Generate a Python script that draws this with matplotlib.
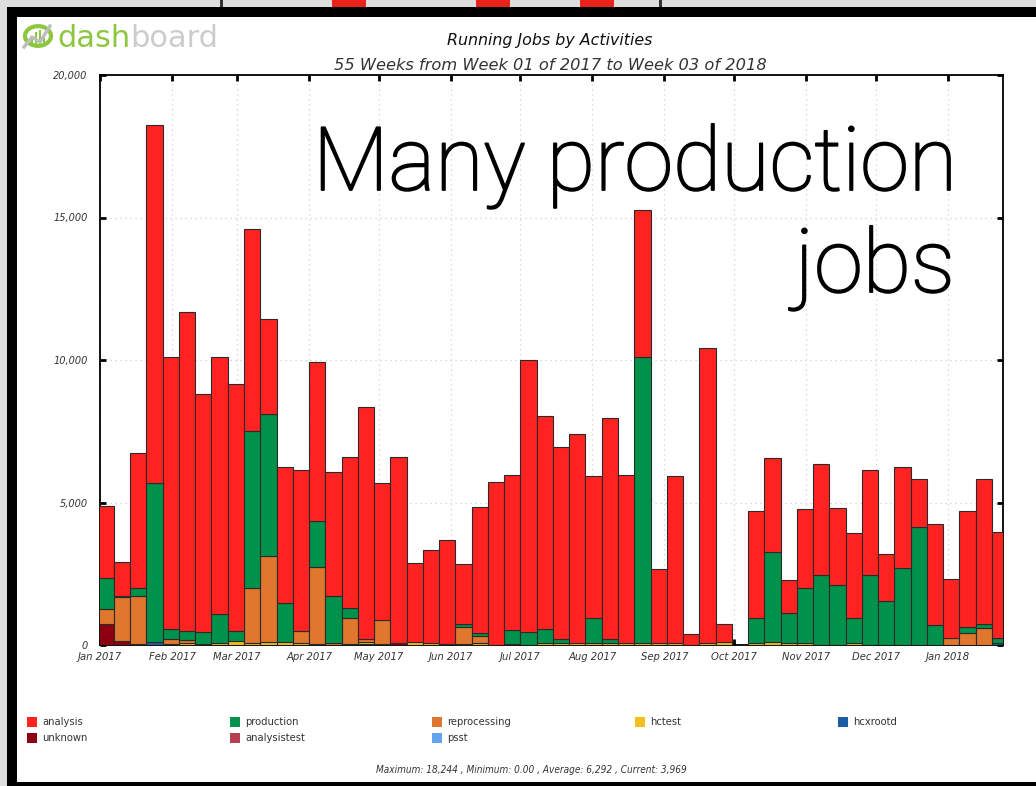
import numpy as np
import pandas as pd
import matplotlib
matplotlib.use("Agg")
import matplotlib.pyplot as plt
import matplotlib.patches as mpatches
import matplotlib.patheffects as pe
from matplotlib import font_manager as fm

# ---------------- data ----------------
week_start = pd.date_range("2016-12-31", periods=56, freq="7D")

analysis = [2520, 1200, 4738, 12554, 9556, 11193, 8340, 9018, 8655, 7098,
            3323, 4784, 5626, 5567, 4339, 5322, 8140, 4815, 6536, 2779,
            3273, 3634, 2085, 4405, 5731, 5450, 9544, 7485, 6760, 7355,
            4994, 7754, 5905, 5175, 2595, 5870, 374, 10349, 647, 0,
            3743, 3275, 1169, 2761, 3883, 2714, 2959, 3684, 1637, 3544,
            1696, 3544, 2093, 4059, 5088, 3739]
production = [1085, 50, 280, 5590, 351, 328, 426, 1029, 373, 5498,
              4970, 1372, 0, 1638, 1671, 327, 0, 0, 0, 0,
              0, 0, 105, 95, 0, 485, 456, 501, 139, 0,
              876, 139, 0, 10028, 0, 0, 0, 0, 0, 0,
              889, 3175, 1051, 1931, 2456, 2105, 889, 2456, 1544, 2690,
              4129, 690, 0, 234, 152, 160]
reprocessing = [535, 1530, 1700, 0, 170, 115, 0, 0, 0, 1941,
                3045, 0, 443, 2685, 60, 909, 110, 850, 0, 0,
                0, 0, 590, 250, 0, 0, 0, 0, 0, 0,
                0, 0, 0, 0, 0, 0, 0, 0, 0, 0,
                0, 0, 0, 0, 0, 0, 0, 0, 0, 0,
                0, 0, 234, 409, 585, 0]
hctest = [0, 0, 0, 0, 0, 60, 30, 70, 130, 70,
          90, 90, 60, 40, 0, 50, 60, 30, 0, 110,
          60, 50, 50, 80, 0, 0, 0, 60, 60, 60,
          60, 60, 60, 60, 60, 60, 0, 60, 90, 0,
          70, 100, 60, 80, 0, 0, 70, 0, 0, 0,
          0, 0, 0, 0, 0, 0]
hcxrootd = [0, 0, 0, 100, 0, 0, 0, 0, 0, 0,
            0, 0, 0, 0, 0, 0, 0, 0, 0, 0,
            0, 0, 0, 0, 0, 0, 0, 0, 0, 0,
            0, 0, 0, 0, 0, 0, 0, 0, 0, 0,
            0, 0, 0, 0, 0, 0, 0, 0, 0, 0,
            0, 0, 0, 0, 0, 70]
unknown = [740, 140, 30, 0, 40, 0, 0, 0, 0, 0,
           0, 0, 0, 0, 0, 0, 40, 0, 60, 0,
           0, 0, 0, 0, 0, 30, 0, 0, 0, 0,
           0, 0, 0, 0, 0, 0, 0, 0, 0, 0,
           0, 0, 0, 0, 0, 0, 0, 0, 0, 0,
           0, 0, 0, 0, 0, 0]
analysistest = [0] * 56
psst = [0] * 56

series_names = ["analysis", "production", "reprocessing", "hctest",
                "hcxrootd", "unknown", "analysistest", "psst"]
series_values = [analysis, production, reprocessing, hctest,
                 hcxrootd, unknown, analysistest, psst]
series_colors = ["#fe2320", "#00914a", "#df772e", "#f2bf1c",
                 "#1b5ea4", "#8c0012", "#b53e53", "#64a2f2"]

month_ticks = pd.date_range("2017-01-01", periods=13, freq="MS")
month_labels = ["Jan 2017", "Feb 2017", "Mar 2017", "Apr 2017", "May 2017",
                "Jun 2017", "Jul 2017", "Aug 2017", "Sep 2017", "Oct 2017",
                "Nov 2017", "Dec 2017", "Jan 2018"]
y_ticks = [0, 5000, 10000, 15000, 20000]
y_labels = ["0", "5,000", "10,000", "15,000", "20,000"]

title = "Running Jobs by Activities"
subtitle = "55 Weeks from Week 01 of 2017 to Week 03 of 2018"
footer = "Maximum: 18,244 , Minimum: 0.00 , Average: 6,292 , Current: 3,969"

# ---------------- fonts ----------------
fl = fm.fontManager.ttflist
has_dv_cond = any(f.name == "DejaVu Sans" and f.stretch == "condensed" for f in fl)
names = {f.name for f in fl}
if has_dv_cond:
    NARROW = dict(family="DejaVu Sans", stretch="condensed")
elif "Liberation Sans Narrow" in names:
    NARROW = dict(family="Liberation Sans Narrow")
else:
    NARROW = dict(family="DejaVu Sans")

W, H = 1036, 786
fig = plt.figure(figsize=(W / 100, H / 100), dpi=100)
fig.patch.set_facecolor("#dedede")


def fx(px):
    return px / W


def fy(py):
    return 1 - py / H


# frame of the screenshot
fig.add_artist(mpatches.Rectangle((fx(7), 0), 1, fy(7), transform=fig.transFigure,
                                  facecolor="black", edgecolor="none", zorder=-10))
fig.add_artist(mpatches.Rectangle((fx(17), fy(782)), 1, fy(17) - fy(782),
                                  transform=fig.transFigure, facecolor="white",
                                  edgecolor="none", zorder=-9))
# bits of the slide behind
for x0, x1, c in [(332, 366, "#e8231c"), (476, 510, "#e8231c"), (580, 614, "#e8231c"),
                  (220, 223, "#333333"), (659, 662, "#333333")]:
    fig.add_artist(mpatches.Rectangle((fx(x0), fy(7)), fx(x1) - fx(x0), 1 - fy(7),
                                      transform=fig.transFigure, facecolor=c,
                                      edgecolor="none", zorder=-8))

# ---------------- axes ----------------
ax = fig.add_axes([fx(100), fy(645), fx(1003) - fx(100), fy(75) - fy(645)])
bottom = np.zeros(56)
order = list(range(len(series_names)))[::-1]  # smallest at the bottom
for k in order:
    vals = np.array(series_values[k], dtype=float)
    idx = np.nonzero(vals > 0)[0]
    if len(idx):
        ax.bar(week_start[idx], vals[idx], width=7, bottom=bottom[idx], align="edge",
               color=series_colors[k], edgecolor="#2a2a2a", linewidth=0.8, zorder=3)
    bottom += vals

ax.set_xlim(pd.Timestamp("2017-01-01"), pd.Timestamp("2018-01-24 18:00"))
ax.set_ylim(0, 20000)
ax.set_xticks(month_ticks)
ax.set_xticklabels(month_labels, style="italic", fontsize=8, color="#333333", **NARROW)
ax.set_yticks(y_ticks)
ax.set_yticklabels(y_labels, style="italic", fontsize=7.8, color="#333333", **NARROW)
ax.tick_params(direction="in", length=4, width=2, top=True, right=True,
               color="black")
ax.tick_params(axis="y", pad=9)
ax.tick_params(axis="x", pad=5)
ax.grid(True, color="#cfcfcf", linestyle=(0, (1, 3)), linewidth=0.9, zorder=0)
ax.set_axisbelow(True)
for s in ax.spines.values():
    s.set_linewidth(1.3)
    s.set_color("black")

# titles
fig.text(fx(550), fy(41), title, ha="center", va="center", style="italic",
         fontsize=11.4, color="#111111", family="DejaVu Sans")
fig.text(fx(550), fy(65), subtitle, ha="center", va="center", style="italic",
         fontsize=11.7, color="#333333", family="DejaVu Sans")

# legend
leg_rows = [["analysis", "production", "reprocessing", "hctest", "hcxrootd"],
            ["unknown", "analysistest", "psst"]]
col_x = [27, 230, 432, 635, 838]
row_y = [722, 738]
for r, row in enumerate(leg_rows):
    for c, name in enumerate(row):
        col = series_colors[series_names.index(name)]
        x0 = col_x[c]
        y0 = row_y[r]
        fig.add_artist(mpatches.Rectangle((fx(x0), fy(y0 + 5)), fx(10), 10 / H,
                                          transform=fig.transFigure, facecolor=col,
                                          edgecolor="none"))
        fig.text(fx(x0 + 15), fy(y0), name, ha="left", va="center", fontsize=8,
                 color="#333333", **NARROW)

fig.text(fx(531), fy(770), footer, ha="center", va="center", style="italic",
         fontsize=7.2, color="#333333", **NARROW)

# logo
green = "#8dc63f"
fig.add_artist(mpatches.Circle((fx(38), fy(36)), 13 / W, transform=fig.transFigure,
                               facecolor="none", edgecolor=green, linewidth=3))
for i, hh in enumerate([8, 13, 15, 10]):
    xb = 31 + i * 4
    fig.add_artist(mpatches.Rectangle((fx(xb), fy(45)), 2.2 / W, hh / H,
                                      transform=fig.transFigure, facecolor=green,
                                      edgecolor="none"))
fig.add_artist(plt.Line2D([fx(24), fx(32), fx(40), fx(50)],
                          [fy(47), fy(37), fy(42), fy(26)],
                          transform=fig.transFigure, color="#bdbdbd", linewidth=2.4))
t1 = fig.text(fx(57), fy(47), "dash", ha="left", va="baseline", fontsize=22,
              color=green, family="DejaVu Sans")
fig.canvas.draw()
bb = t1.get_window_extent(renderer=fig.canvas.get_renderer())
fig.text(bb.x1 / W, fy(47), "board", ha="left", va="baseline", fontsize=22,
         color="#cccccc", family="DejaVu Sans")

# overlay annotation
big = dict(fontsize=63.5, color="black", family=["Roboto", "Liberation Sans", "DejaVu Sans"],
           fontweight="light",
           path_effects=[pe.withStroke(linewidth=1.3, foreground="black")])
fig.text(fx(313), fy(190), "Many production", ha="left", va="baseline", **big)
fig.text(fx(955), fy(292), "jobs", ha="right", va="baseline", **big)

fig.savefig("out.png", dpi=100, facecolor=fig.get_facecolor())
